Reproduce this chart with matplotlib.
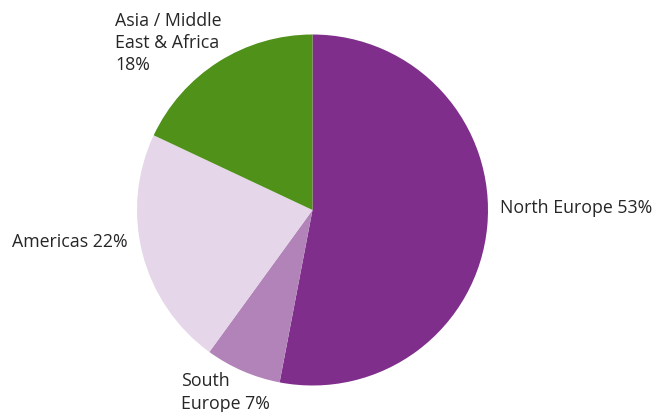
import matplotlib.pyplot as plt

regions = ["North Europe", "South\nEurope", "Americas", "Asia / Middle\nEast & Africa"]
shares = [53, 7, 22, 18]
colors = ["#7f2f8b", "#b283b8", "#e5d6ea", "#4f9119"]

# label anchors (data units, pie radius 1) and alignment
label_pos = [(1.068, 0.01, "left", "center"),
             (-0.75, -0.925, "left", "top"),
             (-1.051, -0.182, "right", "center"),
             (-1.125, 1.13, "left", "top")]

plt.rcParams["font.family"] = ["Open Sans", "DejaVu Sans"]

fig = plt.figure(figsize=(6.63, 4.12), dpi=100)
cx, cy, r = 312.5, 210, 175.5
ax = fig.add_axes([(cx - r) / 663, (412 - cy - r) / 412, 2 * r / 663, 2 * r / 412])
ax.pie(shares, colors=colors, startangle=90, counterclock=False, radius=1,
       wedgeprops={"linewidth": 0})
ax.set_xlim(-1, 1)
ax.set_ylim(-1, 1)
ax.set_aspect("auto")
ax.set_axis_off()

for name, val, (x, y, ha, va) in zip(regions, shares, label_pos):
    sep = "\n" if name.startswith("Asia") else " "
    ax.text(x, y, f"{name}{sep}{val}%", ha=ha, va=va, fontsize=12.8,
            color="#262626", linespacing=1.3, clip_on=False)

fig.savefig("out.png", dpi=100)
